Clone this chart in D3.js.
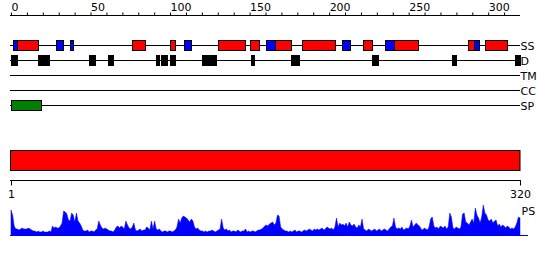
<!DOCTYPE html>
<html>
<head>
<meta charset="utf-8">
<script src="https://cdn.jsdelivr.net/npm/d3@7"></script>
<style>
  html, body { margin: 0; padding: 0; background: #fff; }
  svg { display: block; }
  text { font-family: "DejaVu Sans", sans-serif; font-size: 11px; fill: #000; }
</style>
</head>
<body>
<svg id="chart" width="550" height="260"></svg>
<script>
// ---------- data ----------
const seqLength = 320;
const topTickLabels = [0, 50, 100, 150, 200, 250, 300];
const bottomTickLabels = [1, 320];
const trackNames = ["SS", "D", "TM", "CC", "SP"];

// secondary structure: [start, end, type] (H = helix red, E = strand blue)
const ssSegments = [
  [2, 4, "E"], [5, 17, "H"], [29, 33, "E"], [38, 39, "E"], [77, 84, "H"],
  [101, 103, "H"], [110, 113, "E"], [131, 147, "H"], [151, 156, "H"],
  [161, 166, "E"], [167, 176, "H"], [184, 204, "H"], [209, 213, "E"],
  [222, 227, "H"], [236, 241, "E"], [242, 256, "H"], [288, 291, "H"],
  [292, 294, "E"], [299, 312, "H"]
];
// disorder: [start, end]
const disorderSegments = [
  [1, 4], [18, 24], [50, 50], [52, 53], [62, 64], [92, 93], [95, 98],
  [101, 101], [103, 103], [121, 129], [152, 153], [177, 181], [228, 231],
  [278, 280], [318, 320]
];
const tmSegments = [];
const ccSegments = [];
const spSegments = [[1, 19]];
const domainSegments = [[1, 320]];

// PS profile, one value per residue
const psValues = [
  25,20,9,6,6,5,6,7,6,6,
  6,7,6,5,4,4,3,4,3,3,
  4,3,3,3,4,3,9,7,8,7,
  7,9,12,24,23,21,15,14,22,20,
  13,22,14,12,9,5,4,4,5,3,
  4,4,3,5,6,14,10,7,6,7,
  6,5,4,4,3,5,8,9,7,9,
  8,6,14,10,7,6,8,12,5,4,
  5,6,4,5,5,8,7,5,14,6,
  14,6,5,6,4,3,4,4,3,4,
  4,3,4,5,8,16,12,17,19,18,
  17,15,13,16,14,8,6,7,5,4,
  4,3,4,3,4,4,5,4,3,4,
  5,6,16,7,5,6,4,5,3,4,
  4,3,5,4,3,4,4,6,3,4,
  3,4,4,3,4,5,5,6,7,9,
  10,9,11,12,13,10,12,20,19,8,
  6,5,4,4,3,4,3,4,5,3,
  4,4,3,4,5,4,5,6,5,4,
  6,5,6,5,6,7,5,6,8,7,
  6,7,5,8,17,8,12,10,11,9,
  12,8,13,10,9,11,8,7,10,8,
  16,6,5,4,6,5,4,5,6,4,
  5,6,4,5,6,5,4,6,8,9,
  17,8,6,7,6,8,5,6,7,6,
  9,15,8,10,12,10,9,6,5,7,
  6,5,8,16,18,9,7,8,6,9,
  8,7,9,6,8,22,18,7,6,8,
  7,6,8,21,22,13,12,10,13,16,
  12,27,20,17,12,18,30,22,20,15,
  14,16,12,14,15,9,11,8,10,9,
  7,9,8,6,7,6,8,12,18,17
];

// ---------- drawing ----------
const svg = d3.select("#chart");
const x = d3.scaleLinear().domain([0, seqLength]).range([11, 520]);      // residue boundaries
const xPos = d3.scaleLinear().domain([1, seqLength]).range([11, 520]);   // residue positions

// top axis
const topAxis = d3.axisTop(x)
  .tickValues(d3.range(0, seqLength, 10))
  .tickSize(3)
  .tickFormat(d => topTickLabels.includes(d) ? d : "");
const gTop = svg.append("g").attr("transform", "translate(0,15.5)").call(topAxis);
gTop.select(".domain").attr("d", `M10,0H520`).attr("stroke", "#000");
gTop.selectAll(".tick line").attr("stroke", "#000");
gTop.selectAll(".tick text")
  .attr("text-anchor", "start")
  .attr("x", 0).attr("y", -5)
  .attr("dy", 0)
  .style("font-family", "DejaVu Sans").style("font-size", "11px");

// tracks
const rowY = d3.scalePoint().domain(trackNames).range([45.5, 105.5]);
const trackData = {
  SS: ssSegments.map(d => ({ s: d[0], e: d[1], color: d[2] === "H" ? "#ff0000" : "#0000ff" })),
  D: disorderSegments.map(d => ({ s: d[0], e: d[1], color: "#000000" })),
  TM: tmSegments.map(d => ({ s: d[0], e: d[1], color: "#ffff00" })),
  CC: ccSegments.map(d => ({ s: d[0], e: d[1], color: "#ff00ff" })),
  SP: spSegments.map(d => ({ s: d[0], e: d[1], color: "#008000" }))
};

trackNames.forEach(name => {
  const y = rowY(name);
  const g = svg.append("g");
  g.append("line")
    .attr("x1", 10).attr("x2", 520)
    .attr("y1", y).attr("y2", y)
    .attr("stroke", "#000").attr("stroke-width", 1);
  g.selectAll("rect").data(trackData[name]).join("rect")
    .attr("x", d => Math.round(x(d.s - 1)) + 0.5)
    .attr("width", d => Math.max(1, Math.round(x(d.e)) - Math.round(x(d.s - 1))))
    .attr("y", y - 5)
    .attr("height", 10)
    .attr("fill", d => d.color)
    .attr("stroke", "#000").attr("stroke-width", 1);
  g.append("text")
    .attr("x", 520.5).attr("y", y + 4.5)
    .text(name);
});

// domain bar
svg.selectAll("rect.domain").data(domainSegments).join("rect")
  .attr("class", "domain")
  .attr("x", d => x(d[0] - 1) - 0.5)
  .attr("width", d => x(d[1]) - x(d[0] - 1) + 0.5)
  .attr("y", 150.5).attr("height", 20)
  .attr("fill", "#ff0000").attr("stroke", "#000").attr("stroke-width", 1);

// bottom axis
const bottomAxis = d3.axisBottom(xPos).tickValues(bottomTickLabels).tickSize(5).tickPadding(5);
const gBot = svg.append("g").attr("transform", "translate(0,180.5)").call(bottomAxis);
gBot.select(".domain").attr("d", "M10,0H521").attr("stroke", "#000");
gBot.selectAll(".tick line").attr("stroke", "#000");
gBot.selectAll(".tick text")
  .style("font-family", "DejaVu Sans").style("font-size", "11px");

// PS profile
const yPS = d3.scaleLinear().domain([0, 30]).range([235, 205]);
const area = d3.area()
  .x((d, i) => xPos(i + 1))
  .y0(235)
  .y1(d => yPS(d))
  .curve(d3.curveLinear);
svg.append("path").datum(psValues)
  .attr("d", area)
  .attr("fill", "#0000ff").attr("stroke", "#0000ff").attr("stroke-width", 0.5);
svg.append("line")
  .attr("x1", 10).attr("x2", 528).attr("y1", 235.5).attr("y2", 235.5)
  .attr("stroke", "#0000ff").attr("stroke-width", 1);
svg.append("text").attr("x", 521.5).attr("y", 215).text("PS");
</script>
</body>
</html>
